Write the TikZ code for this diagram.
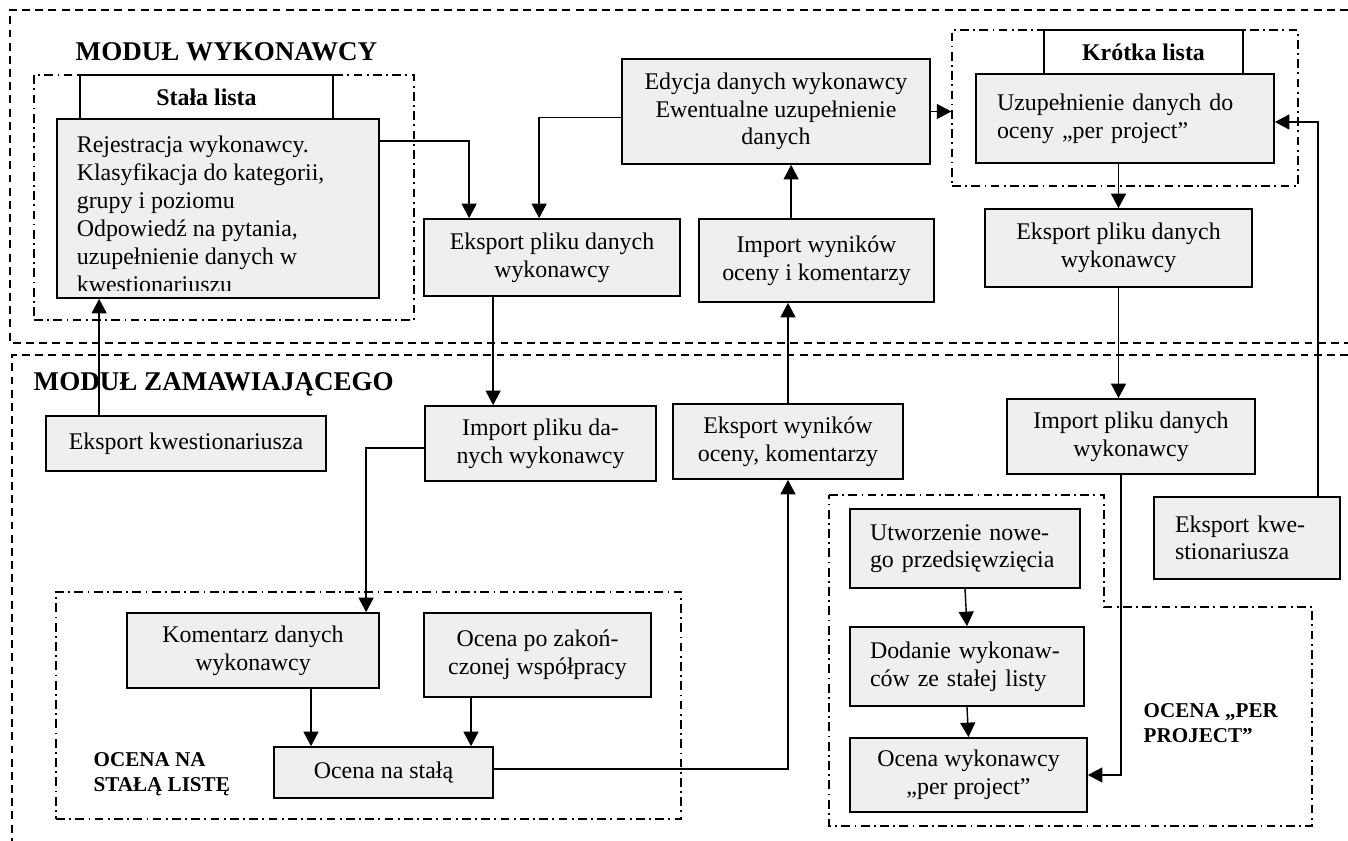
\documentclass[tikz,border=0pt]{standalone}
\usepackage{fontspec}
\setmainfont{Liberation Serif}
\usetikzlibrary{positioning,arrows.meta}
\definecolor{boxfill}{HTML}{EFEFEF}
\newlength\pxu
\setlength\pxu{0.2mm}
\tikzset{
  sz/.style 2 args={minimum width=#1\pxu, minimum height=#2\pxu},
  box/.style={draw, line width=1pt, fill=boxfill, inner sep=0pt, align=center,
    font=\fontsize{13.6}{15.7}\selectfont},
  tabbox/.style={draw, line width=1pt, fill=white, inner sep=0pt,
    font=\fontsize{13.6}{15.7}\selectfont\bfseries},
  frame/.style={draw, line width=0.8pt, dash pattern=on 5pt off 2.5pt on 1pt off 2.5pt, inner sep=0pt},
  modframe/.style={line width=0.8pt, dash pattern=on 4.5pt off 3pt},
  lbl/.style={font=\fontsize{12}{14}\selectfont\bfseries, align=left, inner sep=0pt},
  modlbl/.style={font=\fontsize{15.4}{18}\selectfont\bfseries, inner sep=0pt},
}

\begin{document}
\begin{tikzpicture}[x=0.2mm, y=-0.2mm, line width=0.8pt,
  >={Triangle[length=2.9mm,width=3mm]}]
  \useasboundingbox (0,0) rectangle (1348,841);
  \draw[modframe] (1348,10) -- (10,10) -- (10,343) -- (1348,343);
  \draw[modframe] (1348,355) -- (12,355) -- (12,841);
  \node[modlbl, anchor=base west] (mw) at (75,60) {MODUŁ WYKONAWCY};
  \node[modlbl, anchor=base west] (mz) at (33,390) {MODUŁ ZAMAWIAJĄCEGO};

  \node[frame, sz={380}{245}] (sfr) at (224,197.5) {};
  \node[tabbox, sz={253}{44}] (stab) at (206.5,97) {Stała lista};
  \node[box, sz={322}{179}] (rej) at (218,208.5) {};
  \begin{scope}
    \clip ([yshift=8\pxu]rej.south west) rectangle (rej.north east);
    \node[anchor=north west, align=left, inner sep=0pt,
      font=\fontsize{13.6}{15.9}\selectfont] (rejtxt)
      at ([xshift=20\pxu, yshift=-17\pxu]rej.north west)
      {Rejestracja wykonawcy.\\ Klasyfikacja do kategorii,\\ grupy i poziomu\\
       Odpowiedź na pytania,\\ uzupełnienie danych w\\ kwestionariuszu};
  \end{scope}
  \node[box, sz={308}{105}] (edy) at (776,111.5)
    {Edycja danych wykonawcy\\ Ewentualne uzupełnienie\\ danych};
  \node[box, sz={256}{77}] (eksL) at (552,257.5) {Eksport pliku danych\\ wykonawcy};
  \node[box, sz={235}{83}] (impW) at (816.5,260.5) {Import wyników\\ oceny i komentarzy};

  \node[frame, sz={346}{156}] (kfr) at (1125,108) {};
  \node[tabbox, sz={199}{44}] (ktab) at (1143.5,52) {Krótka lista};
  \node[box, sz={298}{89}, align=left, text width=256\pxu] (uzu) at (1125,118.5)
    {Uzupełnienie danych do\\ oceny „per project”};
  \node[box, sz={267}{78}] (eksR) at (1118.5,248) {Eksport pliku danych\\ wykonawcy};
  \node[box, sz={248}{75}] (impR) at (1131,436.5) {Import pliku danych\\ wykonawcy};
  \node[box, sz={186}{82}, align=left, text width=144\pxu] (kweR) at (1247,538)
    {Eksport kwe-\\ stionariusza};

  \node[box, sz={280}{55}] (kweL) at (186,443.5) {Eksport kwestionariusza};
  \node[box, sz={231}{75}] (impP) at (540.5,443.5) {Import pliku da-\\ nych wykonawcy};
  \node[box, sz={230}{75}] (ekW) at (788,441.5) {Eksport wyników\\ oceny, komentarzy};

  \node[frame, sz={625}{227}] (ofr) at (368.5,705.5) {};
  \node[box, sz={252}{75}] (kom) at (253,650.5) {Komentarz danych\\ wykonawcy};
  \node[box, sz={227}{84}] (opz) at (537.5,655) {Ocena po zakoń-\\ czonej współpracy};
  \node[box, sz={219}{51}] (ons) at (383.5,772.5) {Ocena na stałą};
  \node[lbl, anchor=north west] (lstala) at (93,752) {OCENA NA\\ STAŁĄ LISTĘ};

  \draw[frame] (829,495) -- (1104,495) -- (1104,607) -- (1312,607) -- (1312,826)
    -- (829,826) -- cycle;
  \node[box, sz={230}{79}, align=left, text width=190\pxu] (utw) at (965,548.5)
    {Utworzenie nowe-\\ go przedsięwzięcia};
  \node[box, sz={234}{79}, align=left, text width=194\pxu] (dod) at (967,666.5)
    {Dodanie wykonaw-\\ ców ze stałej listy};
  \node[box, sz={237}{74}] (owp) at (968.5,775) {Ocena wykonawcy\\ „per project”};
  \node[lbl, anchor=north west] (lpp) at (1143,703) {OCENA „PER\\ PROJECT”};

  \draw[->] ([yshift=-23\pxu]rej.north east) -| ([xshift=46\pxu]eksL.north west);
  \draw[->] ([yshift=-6\pxu]edy.west) -| ([xshift=116\pxu]eksL.north west);
  \draw[->] ([xshift=93\pxu]impW.north west) -- ([xshift=93\pxu]impW.north west |- edy.south);
  \draw[->] (edy.east) -- (edy.east -| kfr.west);
  \draw[->] (eksR.north |- uzu.south) -- (eksR.north);
  \draw[->] (eksR.south) -- (eksR.south |- impR.north);
  \draw[->] ([xshift=-10\pxu]impR.south) |- (owp.east);
  \draw[->] ([xshift=71\pxu]kweR.north) |- ([yshift=-3.5\pxu]uzu.east);
  \draw[->] ([xshift=70\pxu]eksL.south west) -- ([xshift=70\pxu]eksL.south west |- impP.north);
  \draw[->] ([xshift=54\pxu]kweL.north west) -- ([xshift=54\pxu]kweL.north west |- rej.south);
  \draw[->] ([yshift=-4.5\pxu]impP.west) -| ([xshift=240\pxu]kom.north west);
  \draw[->] (ekW.north) -- (ekW.north |- impW.south);
  \draw[->] ([yshift=3.5\pxu]ons.east) -| (ekW.south);
  \draw[->] ([xshift=58\pxu]kom.south) -- ([xshift=58\pxu]kom.south |- ons.north);
  \draw[->] ([xshift=-66.5\pxu]opz.south) -- ([xshift=-66.5\pxu]opz.south |- ons.north);
  \draw[->] (utw.south) -- (dod.north);
  \draw[->] (dod.south) -- (owp.north);
\end{tikzpicture}
\end{document}
